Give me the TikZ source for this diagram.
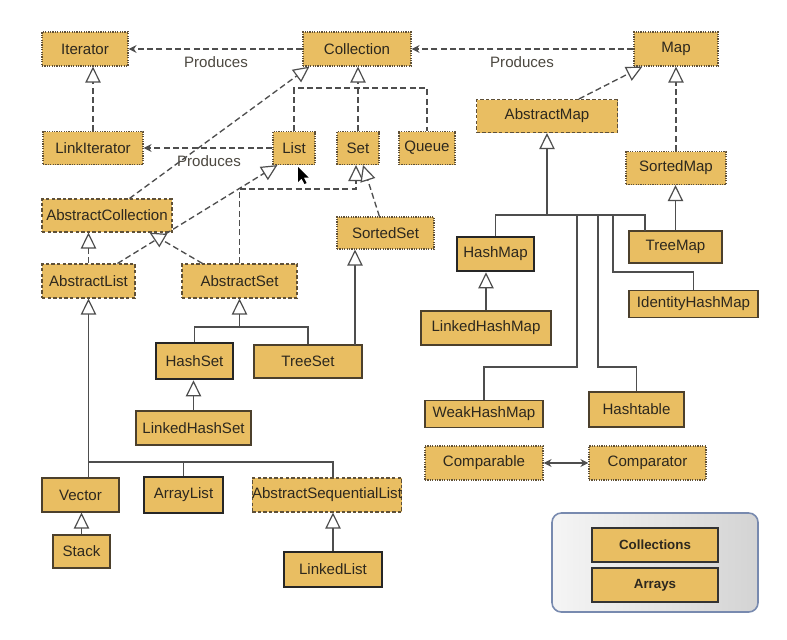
\documentclass[tikz,border=0pt]{standalone}
\usepackage{fontspec}
\setmainfont{Liberation Sans}
\usetikzlibrary{arrows.meta,calc}
\definecolor{boxfill}{RGB}{233,190,98}
\definecolor{textc}{RGB}{45,40,30}
\definecolor{linec}{RGB}{78,78,78}
\definecolor{brd}{RGB}{95,80,55}
\definecolor{legbrd}{RGB}{120,138,175}
\newcommand\pxu[1]{#1*0.75pt}
\tikzset{
  basebox/.style={rectangle, fill=boxfill, text=textc, inner sep=0pt,
    font=\fontsize{11.3}{13}\selectfont},
  iface/.style={basebox, draw=brd, line width=0.9pt, dash pattern=on 0.9pt off 0.9pt},
  abstr/.style={basebox, draw=brd, line width=0.8pt, dash pattern=on 2.6pt off 1.6pt},
  cls/.style={basebox, draw=brd!80!black, line width=0.9pt},
  keycls/.style={basebox, draw=black!85, line width=2pt},
  sz/.style 2 args={minimum width=\pxu{#1}, minimum height=\pxu{#2}},
  lbl/.style={text=textc!85, font=\fontsize{11.3}{13}\selectfont, inner sep=0pt},
  conn/.style={draw=linec, line width=1pt},
  dline/.style={conn, dash pattern=on 4.5pt off 2.5pt},
  dep/.style={dline, -{Stealth[length=6pt,width=6pt,inset=2pt]}},
  real/.style={dline, -{Triangle[open,length=12pt,width=11.5pt,fill=white,line width=0.9pt]}},
  gen/.style={conn, -{Triangle[open,length=12pt,width=11.5pt,fill=white,line width=0.9pt]}},
}
\begin{document}
\begin{tikzpicture}[x=0.75pt,y=-0.75pt]
\useasboundingbox (0,0) rectangle (787,639);
\fill[white] (0,0) rectangle (787,639);

% ---- nodes ----
\node[iface, sz={86}{34}] (iter) at (85,49) {Iterator};
\node[iface, sz={108}{34}] (coll) at (357,49) {Collection};
\node[iface, sz={84}{34}] (map) at (676,49) {Map};
\node[iface, sz={100}{33}] (linkit) at (93,148) {LinkIterator};
\node[iface, sz={42}{33}] (list) at (294,148) {List};
\node[iface, sz={42}{33}] (set) at (358,148) {Set};
\node[iface, sz={56}{33}] (queue) at (427,148) {Queue};
\node[abstr, sz={141}{33}] (absmap) at (547,116) {AbstractMap};
\node[iface, sz={100}{33}] (sortedmap) at (676,168) {SortedMap};
\node[cls, sz={93}{32}] (treemap) at (675.5,247) {TreeMap};
\node[keycls, sz={77}{34}] (hashmap) at (495.5,254) {HashMap};
\node[cls, sz={130}{34}] (lhmap) at (486,328) {LinkedHashMap};
\node[cls, sz={129}{27}] (ihmap) at (693.5,304) {IdentityHashMap};
\node[cls, sz={118}{27}] (weak) at (484,414) {WeakHashMap};
\node[cls, sz={95}{35}] (hashtable) at (636.5,409.5) {Hashtable};
\node[iface, sz={118}{34}] (comparable) at (484,463) {Comparable};
\node[iface, sz={117}{34}] (comparator) at (647.5,463) {Comparator};

\node[abstr, sz={130}{33}] (abscoll) at (107,215.5) {AbstractCollection};
\node[abstr, sz={93}{34}] (abslist) at (88.5,281) {AbstractList};
\node[abstr, sz={115}{34}] (absset) at (239.5,281) {AbstractSet};
\node[iface, sz={97}{32}] (sortedset) at (385.5,233) {SortedSet};
\node[keycls, sz={77}{36}] (hashset) at (194.5,361) {HashSet};
\node[cls, sz={108}{33}] (treeset) at (308,361.5) {TreeSet};
\node[cls, sz={115}{34}] (lhset) at (193.5,428) {LinkedHashSet};
\node[cls, sz={77}{34}] (vector) at (80.5,495) {Vector};
\node[keycls, sz={79}{36}] (arraylist) at (183.5,495) {ArrayList};
\node[abstr, sz={146}{34}] (asl) at (327,495) {AbstractSequentialList};
\node[cls, sz={57}{33}] (stack) at (81.5,551.5) {Stack};
\node[keycls, sz={98}{35}] (linkedlist) at (333,569.5) {LinkedList};

% legend
\node[draw=legbrd, line width=1.2pt, rounded corners=7pt, left color=white!96!black,
      right color=black!17, minimum width=\pxu{206}, minimum height=\pxu{99}] (legend) at (655,562.5) {};
\node[cls, draw=black!80, font=\bfseries\fontsize{10}{12}\selectfont, sz={126}{34}] (collections) at (655,545) {Collections};
\node[cls, draw=black!80, font=\bfseries\fontsize{10}{12}\selectfont, sz={126}{34}] (arrays) at (655,585) {Arrays};

% labels
\node[lbl] (p1) at (216,62) {Produces};
\node[lbl] (p2) at (522,62) {Produces};
\node[lbl] (p3) at (209,161) {Produces};

% ---- coordinates ----
\coordinate (cj) at (358,88);
\coordinate (sj) at (356,189);
\coordinate (mj) at (547,215);
\coordinate (asj) at (239.5,327);
\coordinate (ts) at (355,345);
\coordinate (alj) at (88.5,462);
\coordinate (aslj) at (333,462);

% ---- connectors ----
\draw[dep] (coll) -- (iter);
\draw[dep] (map) -- (coll);
\draw[dep] (list) -- (linkit);

\draw[real] (linkit.north) -- (linkit.north |- iter.south);
\draw[dline] (list.north) |- (cj) -| (queue.north);
\draw[real] (set.north) -- (set.north |- coll.south);
\draw[real] ($(abscoll.north west)+(88,0)$) -- ($(coll.south west)+(7,0)$);
\draw[real] ($(abslist.north west)+(76,0)$) -- ($(list.south west)+(5,0)$);
\draw[real] (abslist.north) -- (abslist.north |- abscoll.south);
\draw[real] ($(absset.north west)+(21,0)$) -- ($(abscoll.south west)+(108,0)$);
\draw[real] (absset.north) |- (sj) -- (sj |- set.south);
\draw[real] ($(sortedset.north west)+(43,0)$) -- ($(set.south)+(5,0)$);

\draw[real] ($(absmap.north west)+(103,0)$) -- ($(map.south west)+(9,0)$);
\draw[real] (sortedmap.north) -- (sortedmap.north |- map.south);
\draw[gen] (treemap.north) -- (treemap.north |- sortedmap.south);

\draw[gen] (mj) -- (absmap.south);
\draw[conn] (hashmap.north) |- (645,215) -- (645,231);
\draw[conn] (577,215) -- (577,367) -| (weak.north);
\draw[conn] (598,215) -- (598,367) -| (hashtable.north);
\draw[conn] (613,215) -- (613,272) -| (ihmap.north);
\draw[gen] (lhmap.north) -- (lhmap.north |- hashmap.south);

\draw[{Stealth[length=6pt,width=6pt,inset=2pt]}-{Stealth[length=6pt,width=6pt,inset=2pt]}, conn] (comparable) -- (comparator);

\draw[gen] (asj) -- (absset.south);
\draw[conn] (hashset.north) |- (asj) -| (treeset.north);
\draw[gen] (ts) -- (ts |- sortedset.south);
\draw[gen] (lhset.north) -- (lhset.north |- hashset.south);

\draw[gen] (alj) -- (abslist.south);
\draw[conn] (alj |- vector.north) -- (alj) -- (aslj) -- (aslj |- asl.north);
\draw[conn] (arraylist.north) -- (arraylist.north |- alj);
\draw[gen] (stack.north) -- (stack.north |- vector.south);
\draw[gen] (linkedlist.north) -- (linkedlist.north |- asl.south);

% mouse cursor
\fill[black] (298,167) -- (298,182) -- (301.5,178.5) -- (304.5,184) -- (306.5,183) -- (303.8,177.6) -- (308.5,177.5) -- cycle;
\end{tikzpicture}
\end{document}
